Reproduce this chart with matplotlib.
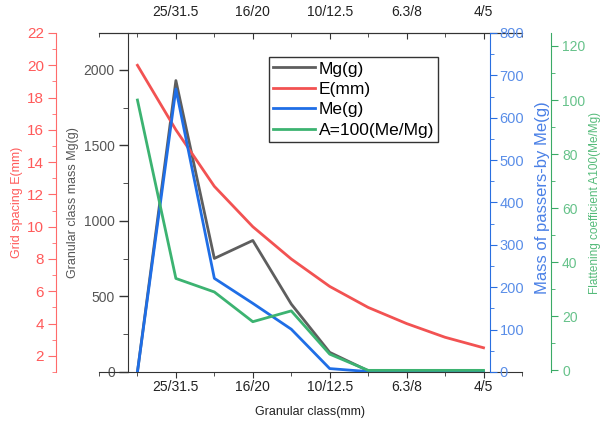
import matplotlib.pyplot as plt
from matplotlib.ticker import MultipleLocator

plt.rcParams['font.family'] = ['Liberation Sans', 'DejaVu Sans']

# data, one point per sieve step (labels only on every second step)
x = [0, 1, 2, 3, 4, 5, 6, 7, 8, 9]
classes = ['25/31.5', '16/20', '10/12.5', '6.3/8', '4/5']
mg = [0, 1930, 752, 871, 450, 130, 8, 0, 0, 0]
e_mm = [20, 16, 12.5, 10, 8, 6.3, 5, 4, 3.15, 2.5]
me = [0, 668, 221, 162, 101, 8, 1, 0, 0, 0]
a_coef = [100, 34, 29, 18, 22, 6, 0, 0, 0, 0]

class_pos = x[1::2]

c_mg = '#5e5e5e'
c_e = '#f25252'
c_me = '#1f6ee6'
c_a = '#3cb371'

fig = plt.figure(figsize=(6.01, 4.23), dpi=100)
ax = fig.add_axes([0.1647, 0.1206, 0.7038, 0.8014])

# Mg on the inner left axis
l_mg, = ax.plot(x, mg, color=c_mg, lw=2, label='Mg(g)')
ax.set_xlim(-1, 10)
ax.set_ylim(0, 2245)
ax.spines['left'].set_position(('axes', 0.0686))
ax.spines['right'].set_visible(False)
for s in ['left', 'top', 'bottom']:
    ax.spines[s].set_color('#333333')
ax.yaxis.set_major_locator(MultipleLocator(500))
ax.yaxis.set_minor_locator(MultipleLocator(250))
ax.tick_params(axis='y', which='major', length=6.5, width=1, colors='#333333',
               labelcolor='#555555', labelsize=10, pad=3)
ax.tick_params(axis='y', which='minor', length=3.4, colors='#333333')
ax.set_ylabel('Granular class mass Mg(g)', fontsize=9, color='#555555')
ax.yaxis.set_label_coords(-0.0615, 0.5)
ax.yaxis.label.set_va('center')

ax.set_xticks(class_pos, classes)
ax.xaxis.set_minor_locator(MultipleLocator(1))
ax.tick_params(axis='x', which='major', length=4.5, labelsize=10, pad=1.5,
               colors='#333333', labelcolor='#222222')
ax.tick_params(axis='x', which='minor', length=2.6, colors='#333333')
ax.set_xlabel('Granular class(mm)', fontsize=9, color='#222222')
ax.xaxis.set_label_coords(0.5, -0.118)
ax.xaxis.label.set_va('center')

top = ax.secondary_xaxis('top')
top.set_xticks(class_pos, classes)
top.xaxis.set_minor_locator(MultipleLocator(1))
top.tick_params(which='major', direction='in', length=4.5, labelsize=10, pad=10,
                colors='#333333', labelcolor='#222222')
top.tick_params(which='minor', direction='in', length=2.6, colors='#333333')
top.spines['top'].set_color('#333333')

# E on the outer left axis
ax_e = ax.twinx()
l_e, = ax_e.plot(x, e_mm, color=c_e, lw=2, label='E(mm)')
ax_e.set_ylim(1, 22)
ax_e.yaxis.tick_left()
ax_e.yaxis.set_label_position('left')
ax_e.spines['left'].set_position(('axes', -0.1017))
ax_e.spines['left'].set_color('#ff6b6b')
for s in ['right', 'top', 'bottom']:
    ax_e.spines[s].set_visible(False)
ax_e.yaxis.set_major_locator(MultipleLocator(2))
ax_e.yaxis.set_minor_locator(MultipleLocator(1))
ax_e.tick_params(axis='y', which='major', length=5.5, colors='#ff6b6b',
                 labelcolor='#ff5a5a', labelsize=11, pad=3)
ax_e.tick_params(axis='y', which='minor', length=3, colors='#ff6b6b')
ax_e.set_yticks([2, 4, 6, 8, 10, 12, 14, 16, 18, 20, 22])
ax_e.set_ylabel('Grid spacing E(mm)', fontsize=9, color='#ff5a5a')
ax_e.yaxis.set_label_coords(-0.1927, 0.5)
ax_e.yaxis.label.set_va('center')

# Me on the inner right axis
ax_me = ax.twinx()
l_me, = ax_me.plot(x, me, color=c_me, lw=2, label='Me(g)')
ax_me.set_ylim(0, 800)
ax_me.spines['right'].set_position(('axes', 0.924))
ax_me.spines['right'].set_color('#2a6fe0')
for s in ['left', 'top', 'bottom']:
    ax_me.spines[s].set_visible(False)
ax_me.yaxis.set_major_locator(MultipleLocator(100))
ax_me.yaxis.set_minor_locator(MultipleLocator(50))
ax_me.tick_params(axis='y', which='major', length=5, colors='#2a6fe0',
                  labelcolor='#5a8ee8', labelsize=10.5, pad=2)
ax_me.tick_params(axis='y', which='minor', length=3, colors='#2a6fe0')
ax_me.set_ylabel('Mass of passers-by Me(g)', fontsize=12, color='#4a80e6',
                 rotation=90)
ax_me.yaxis.set_label_coords(1.0496, 0.515)
ax_me.yaxis.label.set_va('center')

# A on the outer right axis
ax_a = ax.twinx()
l_a, = ax_a.plot(x, a_coef, color=c_a, lw=2, label='A=100(Me/Mg)')
ax_a.set_ylim(-0.6, 124.8)
ax_a.spines['right'].set_position(('axes', 1.0686))
ax_a.spines['right'].set_color('#3aaa66')
for s in ['left', 'top', 'bottom']:
    ax_a.spines[s].set_visible(False)
ax_a.yaxis.set_major_locator(MultipleLocator(20))
ax_a.yaxis.set_minor_locator(MultipleLocator(10))
ax_a.tick_params(axis='y', which='major', length=5, colors='#3aaa66',
                 labelcolor='#66c28a', labelsize=10, pad=3)
ax_a.tick_params(axis='y', which='minor', length=3, colors='#3aaa66')
ax_a.set_ylabel('Flattening coefficient A100(Me/Mg)', fontsize=8.5,
                color='#55bb7a', rotation=90)
ax_a.yaxis.set_label_coords(1.1726, 0.5)
ax_a.yaxis.label.set_va('center')

handles = [l_mg, l_e, l_me, l_a]
leg = ax_a.legend(handles, [h.get_label() for h in handles], loc='upper left',
                  bbox_to_anchor=(0.402, 0.929), borderaxespad=0, fontsize=12.5,
                  fancybox=False, edgecolor='#333333', framealpha=1,
                  handlelength=2.4, handletextpad=0.2, borderpad=0.25,
                  labelspacing=0.3)
leg.get_frame().set_linewidth(1)

plt.savefig('out.png', dpi=100)
